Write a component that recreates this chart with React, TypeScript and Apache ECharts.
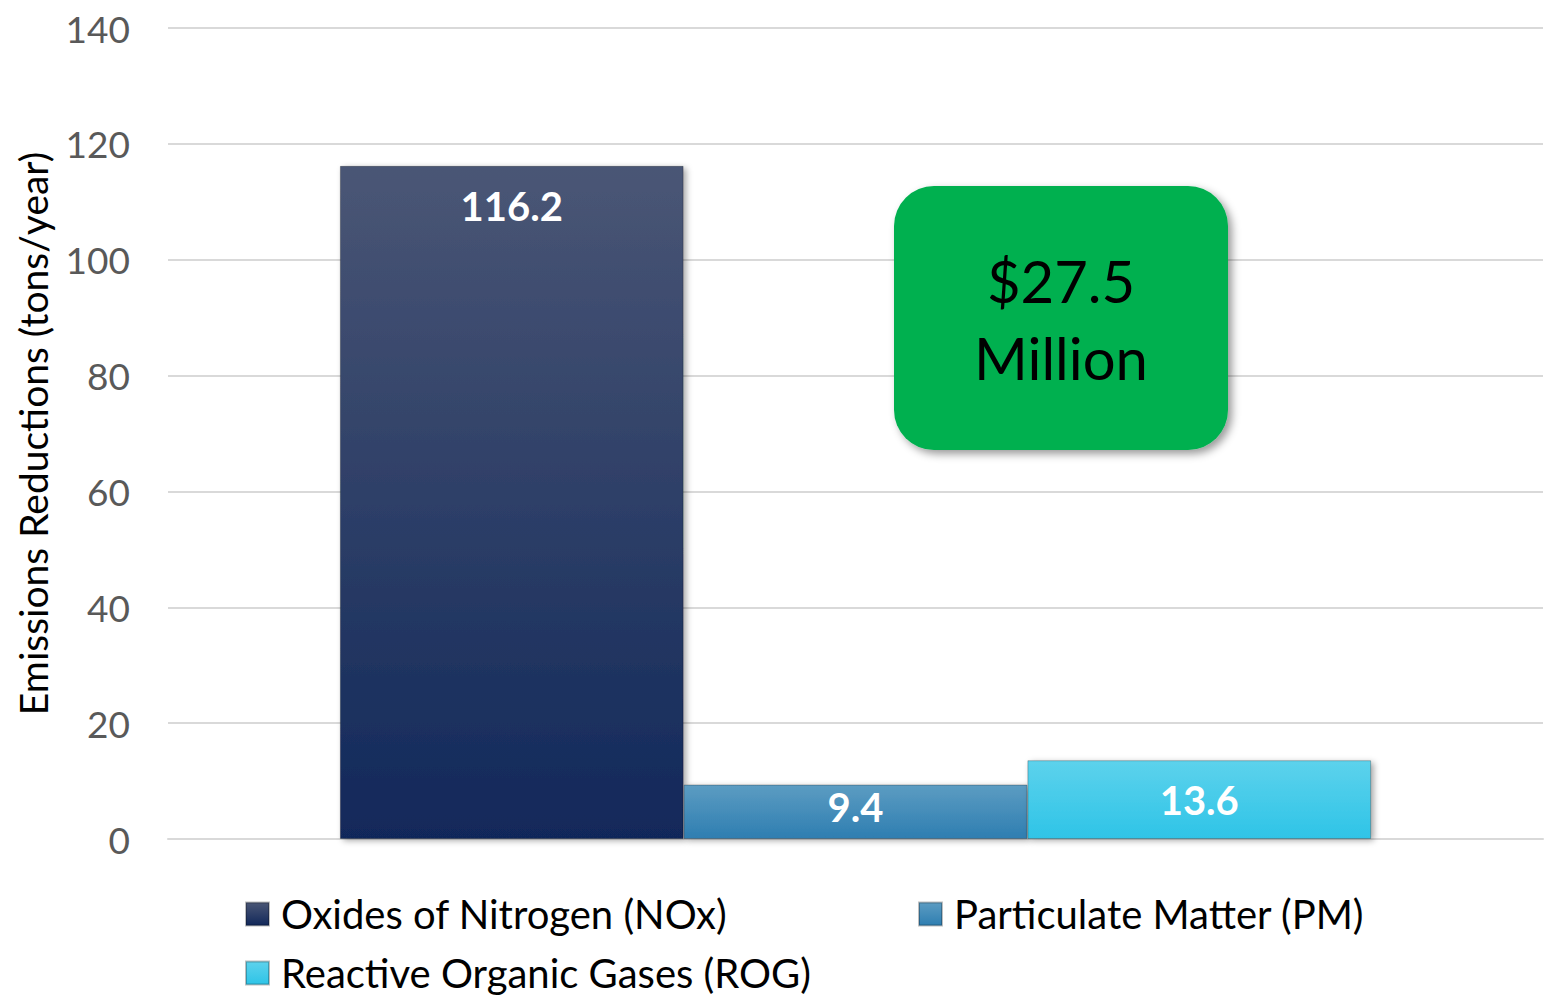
import React, { useEffect, useRef } from "react";
import * as echarts from "echarts";

const categories = [""];
const seriesNames = ["Oxides of Nitrogen (NOx)", "Particulate Matter (PM)", "Reactive Organic Gases (ROG)"];
const noxValues = [116.2];
const pmValues = [9.4];
const rogValues = [13.6];
const yTicks = [0, 20, 40, 60, 80, 100, 120, 140];
const calloutLines = ["$27.5", "Million"];

const FONT = "Lato, 'Open Sans', sans-serif";

const grad = (top: string, bottom: string) =>
  new echarts.graphic.LinearGradient(0, 0, 0, 1, [
    { offset: 0, color: top },
    { offset: 1, color: bottom },
  ]);

export default function App() {
  const ref = useRef<HTMLDivElement>(null);
  useEffect(() => {
    if (!ref.current) return;
    const chart = echarts.init(ref.current, undefined, { renderer: "svg" });
    const colors = [
      grad("#4a5675", "#11285a"),
      grad("#5c9cc2", "#2e7eb1"),
      grad("#5dd2ec", "#2ec4e7"),
    ];
    const values = [noxValues, pmValues, rogValues];
    const labelDist = [20, 2, 20];
    const legendLefts = [245, 918, 245];
    const legendTops = [894, 894, 953];
    chart.setOption({
      animation: false,
      textStyle: { fontFamily: FONT },
      grid: {
        left: 168,
        right: 4,
        top: 28,
        bottom: 160,
        containLabel: false,
        outerBoundsMode: "none",
      },
      legend: seriesNames.map((n, i) => ({
        data: [n],
        left: legendLefts[i],
        top: legendTops[i],
        icon: "rect",
        itemWidth: 23,
        itemHeight: 23,
        itemGap: 12,
        padding: 0,
        textStyle: { fontSize: 40, color: "#000", fontFamily: FONT, padding: [0, 0, 0, 7] },
      })),
      xAxis: {
        type: "category",
        data: categories,
        axisLabel: { show: false },
        axisTick: { show: false },
        axisLine: { show: true, lineStyle: { color: "#d9d9d9", width: 2 } },
      },
      yAxis: {
        type: "value",
        min: yTicks[0],
        max: yTicks[yTicks.length - 1],
        interval: 20,
        name: "Emissions Reductions (tons/year)",
        nameLocation: "middle",
        nameGap: 116,
        nameTextStyle: { fontSize: 39, color: "#000", fontFamily: FONT },
        axisLine: { show: false },
        axisTick: { show: false },
        axisLabel: { fontSize: 37, color: "#595959", margin: 38, fontFamily: FONT },
        splitLine: { lineStyle: { color: "#d9d9d9", width: 2 } },
      },
      series: seriesNames.map((n, i) => ({
        name: n,
        type: "bar",
        data: values[i],
        barGap: "0%",
        barCategoryGap: "25%",
        itemStyle: {
          color: colors[i],
          borderColor: "rgba(0,0,0,0.25)",
          borderWidth: 1,
          shadowColor: "rgba(0,0,0,0.35)",
          shadowBlur: 6,
          shadowOffsetX: 3,
          shadowOffsetY: 2,
        },
        label: {
          show: true,
          position: "insideTop",
          distance: labelDist[i],
          color: "#fff",
          fontSize: 40,
          fontWeight: "bold",
          fontFamily: FONT,
          formatter: (p: any) => String(p.value),
        },
      })),
      graphic: [
        {
          type: "rect",
          left: 894,
          top: 186,
          shape: { width: 334, height: 264, r: 40 },
          style: {
            fill: "#00b050",
            shadowColor: "rgba(0,0,0,0.4)",
            shadowBlur: 8,
            shadowOffsetX: 4,
            shadowOffsetY: 4,
          },
          z: 10,
        },
        {
          type: "text",
          x: 1061,
          y: 319,
          z: 11,
          style: {
            text: calloutLines.join("\n"),
            fontSize: 58,
            lineHeight: 77,
            fill: "#000",
            fontFamily: FONT,
            align: "center",
            verticalAlign: "middle",
          },
        },
      ],
    });
    return () => chart.dispose();
  }, []);
  return (
    <div
      ref={ref}
      style={{ position: "fixed", left: 0, top: 0, width: 1547, height: 999, background: "#fff" }}
    />
  );
}
